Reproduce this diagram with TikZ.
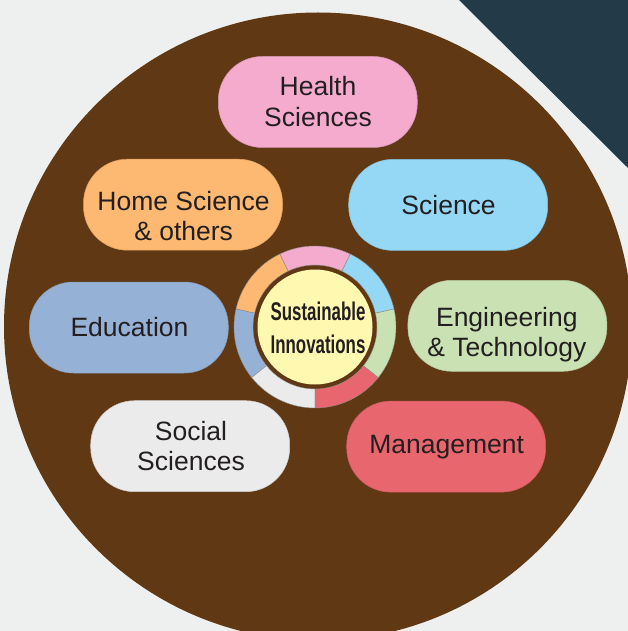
\documentclass[tikz,border=0pt]{standalone}
\usepackage{fontspec}
\setmainfont{Liberation Sans}
\newfontfamily\condfont[FakeStretch=0.66]{Liberation Sans}
\definecolor{bgc}{HTML}{EEF0EF}
\definecolor{tealc}{HTML}{233B48}
\definecolor{brownc}{HTML}{603813}
\definecolor{pinkc}{HTML}{F4ABCE}
\definecolor{orangec}{HTML}{FDB872}
\definecolor{skyc}{HTML}{94D8F6}
\definecolor{greenc}{HTML}{C9E1B3}
\definecolor{redc}{HTML}{E8666D}
\definecolor{grayc}{HTML}{EBEBEB}
\definecolor{bluegrayc}{HTML}{96B1D6}
\definecolor{yellowc}{HTML}{FFF8B1}
\definecolor{txtc}{HTML}{231F20}
\newcommand\twolines[2]{\begin{tabular}[t]{@{}c@{}}#1\\#2\end{tabular}}
\tikzset{
  pill/.style={rectangle, rounded corners=44pt, minimum width=199pt, minimum height=91pt,
    inner sep=0pt, fill=#1, draw=#1!88!black, line width=0.5pt},
  lbl/.style={anchor=base, inner sep=0pt, text=txtc, font=\fontsize{26.5}{30.3}\selectfont},
  corelbl/.style={anchor=base, inner sep=0pt, text=txtc, font=\condfont\bfseries\fontsize{25.6}{33.3}\selectfont},
  seg/.style={fill=#1, draw=black!45, line width=0.4pt}
}
\begin{document}
\begin{tikzpicture}[x=1pt,y=-1pt]
\useasboundingbox (0,0) rectangle (628,631);
\fill[bgc] (0,0) rectangle (628,631);
\fill[tealc] (459,0) -- (628,0) -- (628,168) -- cycle;
\fill[brownc] (318,326.5) circle[radius=314];

% pills
\node[pill=pinkc] (health) at (317.8,102) {};
\node[pill=orangec] (home) at (183,204.7) {};
\node[pill=skyc] (science) at (448.2,204.9) {};
\node[pill=bluegrayc] (edu) at (128.8,327.5) {};
\node[pill=greenc] (eng) at (507.4,325.8) {};
\node[pill=grayc] (social) at (190.2,446.2) {};
\node[pill=redc] (mgmt) at (446.2,446.6) {};

\node[lbl] (healthT) at (318,96) {\twolines{Health}{Sciences}};
\node[lbl] (homeT) at (183.6,210.5) {\twolines{Home Science}{\& others}};
\node[lbl] (scienceT) at (448.6,214.8) {Science};
\node[lbl] (eduT) at (129.5,336.7) {Education};
\node[lbl] (engT) at (506.8,326) {\twolines{Engineering}{\& Technology}};
\node[lbl] (socialT) at (191,440) {\twolines{Social}{Sciences}};
\node[lbl] (mgmtT) at (446.7,453) {Management};

% central ring
\begin{scope}[shift={(315,327)}, yscale=-1]
  \foreach \a/\c in {12.857/skyc, 64.286/pinkc, 115.714/orangec, 167.143/bluegrayc,
                     218.571/grayc, 270/redc, 321.429/greenc} {
    \pgfmathsetmacro\b{\a+51.4286}
    \path[seg=\c] (\a:81) arc[start angle=\a, end angle=\b, radius=81]
      -- (\b:62) arc[start angle=\b, end angle=\a, radius=62] -- cycle;
  }
\end{scope}
\node[circle, fill=yellowc, minimum size=115pt, inner sep=0pt] (hub) at (315,327) {};
\node[corelbl] (hubT) at (318,320) {\begin{tabular}[t]{@{}c@{}}Sustainable\\Innovations\end{tabular}};
\end{tikzpicture}
\end{document}
